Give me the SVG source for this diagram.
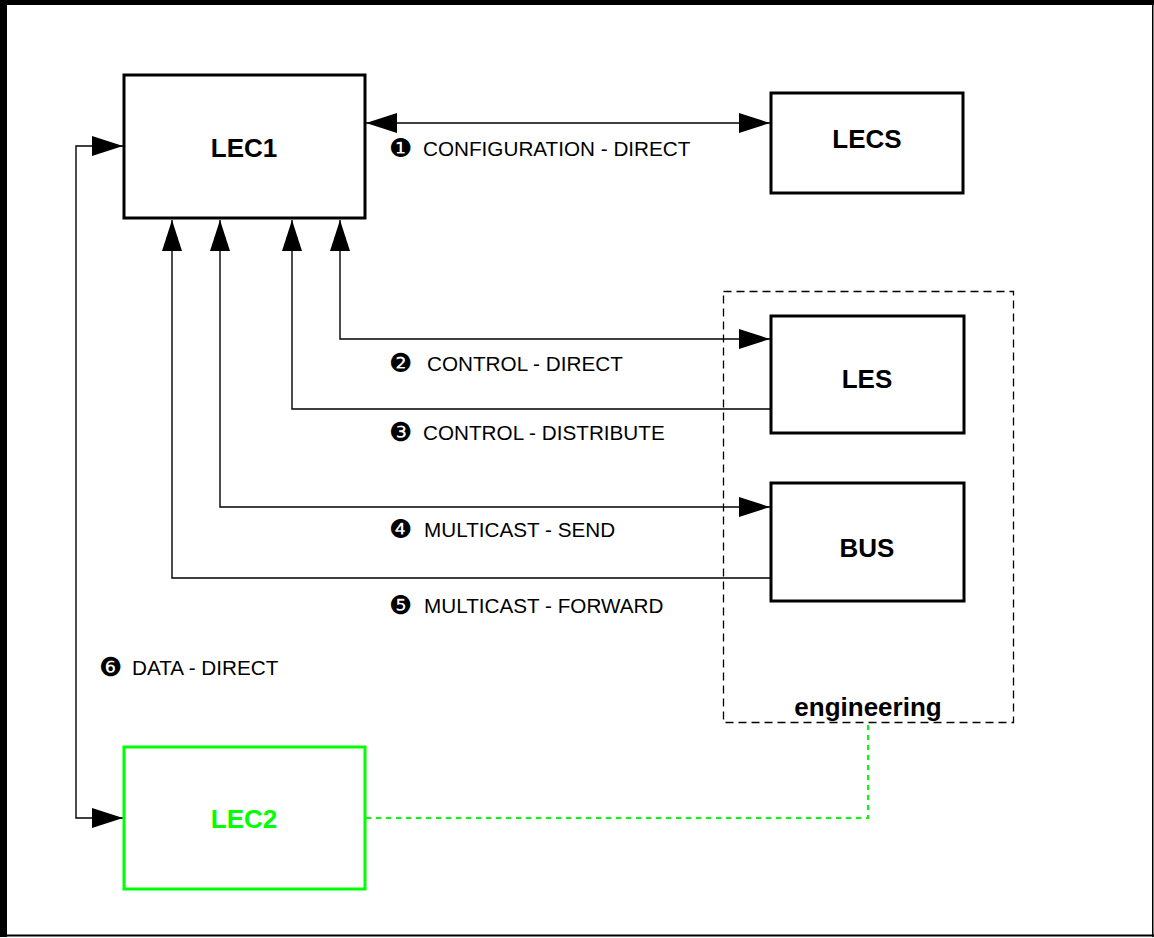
<svg xmlns="http://www.w3.org/2000/svg" width="1154" height="938" viewBox="0 0 1154 938">
<style>
.box{fill:#fff;stroke:#000;stroke-width:3}
.green{fill:#fff;stroke:#00ff00;stroke-width:3}
.name{font-family:"Liberation Sans",Arial,sans-serif;font-weight:bold;font-size:26px;text-anchor:middle;fill:#000}
.lbl{font-family:"Liberation Sans",Arial,sans-serif;font-size:20.7px;fill:#000}
.num{font-family:"DejaVu Sans",sans-serif;font-size:26px;fill:#000}
.conn{fill:none;stroke:#000;stroke-width:1.4}
</style>
<defs>
<marker id="ah" markerUnits="userSpaceOnUse" markerWidth="32" markerHeight="20" refX="31" refY="10" orient="auto-start-reverse" viewBox="0 0 32 20">
<path d="M0,0 L31,10 L0,20 Z" fill="#000"/>
</marker>
</defs>
<rect width="1154" height="938" fill="#fff"/>
<g id="frame">
<rect x="0" y="0" width="1154" height="5" fill="#000"/>
<rect x="0" y="0" width="7" height="937" fill="#000"/>
<rect x="0" y="934.5" width="1154" height="2" fill="#000"/>
<rect x="1152" y="0" width="1.5" height="937" fill="#000"/>
</g>
<g id="engineering">
<rect x="723.5" y="291.5" width="290" height="431" fill="none" stroke="#000" stroke-width="1.3" stroke-dasharray="8,5"/>
<text class="name" x="868" y="716">engineering</text>
</g>
<g id="connectors">
<path class="conn" d="M366,123 H770" marker-start="url(#ah)" marker-end="url(#ah)"/>
<path class="conn" d="M340,220 V339 H770" marker-start="url(#ah)" marker-end="url(#ah)"/>
<path class="conn" d="M770,409 H292 V220" marker-end="url(#ah)"/>
<path class="conn" d="M220,220 V507 H770" marker-start="url(#ah)" marker-end="url(#ah)"/>
<path class="conn" d="M770,578 H172 V220" marker-end="url(#ah)"/>
<path class="conn" d="M123,146 H76 V818 H123" marker-start="url(#ah)" marker-end="url(#ah)"/>
<path d="M366,818 H868 V723" fill="none" stroke="#00ff00" stroke-width="2" stroke-dasharray="5,5"/>
</g>
<g id="labels">
<text class="num" x="389" y="157">❶</text><text class="lbl" x="423" y="156">CONFIGURATION - DIRECT</text>
<text class="num" x="389" y="372">❷</text><text class="lbl" x="427" y="371">CONTROL - DIRECT</text>
<text class="num" x="389" y="441">❸</text><text class="lbl" x="423" y="440">CONTROL - DISTRIBUTE</text>
<text class="num" x="389" y="538">❹</text><text class="lbl" x="424" y="537">MULTICAST - SEND</text>
<text class="num" x="389" y="614">❺</text><text class="lbl" x="424" y="613">MULTICAST - FORWARD</text>
<text class="num" x="99" y="676">❻</text><text class="lbl" x="132" y="675">DATA - DIRECT</text>
</g>
<g id="LEC1">
<rect class="box" x="124" y="75" width="241" height="143"/>
<text class="name" x="244" y="157">LEC1</text>
</g>
<g id="LECS">
<rect class="box" x="771" y="93" width="192" height="100"/>
<text class="name" x="867" y="148">LECS</text>
</g>
<g id="LES">
<rect class="box" x="771" y="316" width="193" height="117"/>
<text class="name" x="867" y="388">LES</text>
</g>
<g id="BUS">
<rect class="box" x="771" y="483" width="193" height="118"/>
<text class="name" x="867" y="557">BUS</text>
</g>
<g id="LEC2">
<rect class="green" x="124" y="747" width="241" height="142"/>
<text class="name" x="244" y="828" style="fill:#00ff00">LEC2</text>
</g>
</svg>
